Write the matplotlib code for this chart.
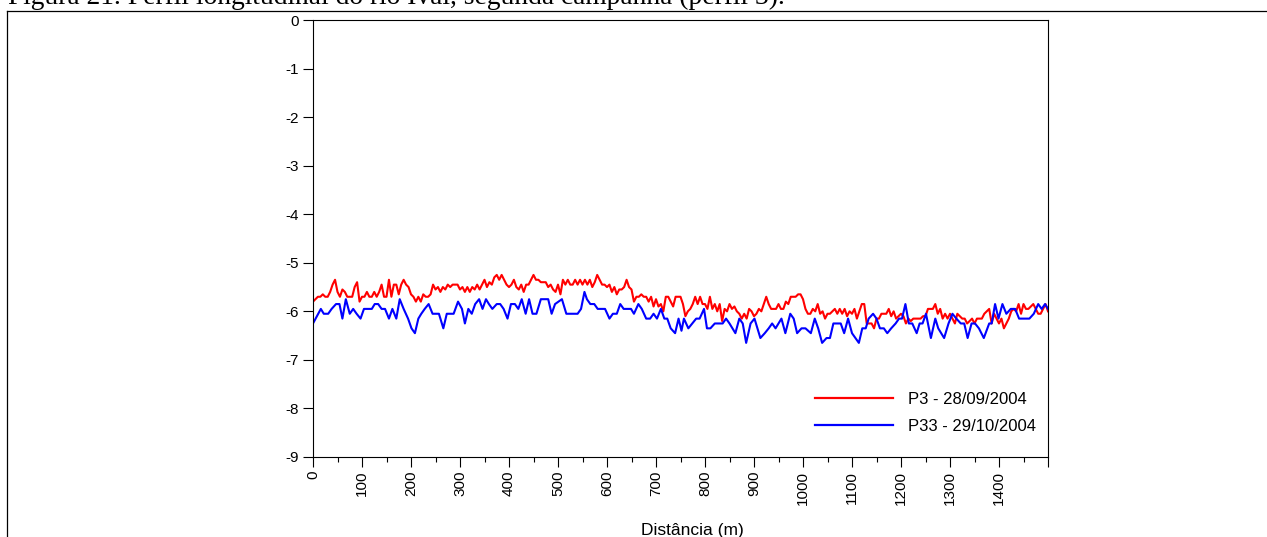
import numpy as np
import matplotlib
matplotlib.use("Agg")
import matplotlib.pyplot as plt
from matplotlib.lines import Line2D
from matplotlib.ticker import MultipleLocator

# Survey P3 (28/09/2004): depth every 5 m along the channel
dist_p3 = np.arange(0, 1501, 5)
depth_p3 = [
    -5.8, -5.75, -5.7, -5.7, -5.65, -5.7, -5.7, -5.6, -5.45, -5.35,
    -5.6, -5.7, -5.55, -5.6, -5.7, -5.7, -5.7, -5.5, -5.4, -5.8,
    -5.7, -5.7, -5.6, -5.7, -5.7, -5.6, -5.7, -5.6, -5.45, -5.7,
    -5.7, -5.35, -5.7, -5.45, -5.45, -5.65, -5.45, -5.35, -5.45, -5.5,
    -5.65, -5.7, -5.8, -5.7, -5.8, -5.65, -5.7, -5.7, -5.65, -5.45,
    -5.55, -5.5, -5.6, -5.5, -5.55, -5.45, -5.5, -5.45, -5.45, -5.45,
    -5.55, -5.5, -5.6, -5.5, -5.6, -5.5, -5.55, -5.45, -5.55, -5.45,
    -5.35, -5.5, -5.4, -5.45, -5.3, -5.25, -5.35, -5.25, -5.35, -5.45,
    -5.5, -5.45, -5.35, -5.5, -5.55, -5.45, -5.6, -5.45, -5.45, -5.35,
    -5.25, -5.35, -5.35, -5.4, -5.4, -5.4, -5.5, -5.45, -5.55, -5.6,
    -5.45, -5.65, -5.35, -5.45, -5.35, -5.45, -5.45, -5.35, -5.45, -5.35,
    -5.45, -5.35, -5.45, -5.35, -5.5, -5.4, -5.25, -5.35, -5.45, -5.45,
    -5.5, -5.45, -5.6, -5.5, -5.65, -5.55, -5.55, -5.5, -5.35, -5.5,
    -5.55, -5.8, -5.7, -5.7, -5.65, -5.7, -5.7, -5.8, -5.7, -5.9,
    -5.75, -5.9, -5.85, -6.0, -5.7, -5.7, -5.8, -5.9, -5.7, -5.7,
    -5.7, -5.85, -6.1, -6.0, -5.95, -5.85, -5.7, -5.85, -5.7, -5.85,
    -5.85, -5.95, -5.7, -5.95, -5.85, -6.0, -5.85, -6.2, -5.95, -6.0,
    -5.85, -5.95, -5.9, -6.0, -6.05, -6.15, -6.05, -6.15, -5.95, -6.0,
    -6.1, -6.05, -5.95, -6.0, -5.85, -5.7, -5.85, -5.95, -5.95, -5.95,
    -5.85, -5.95, -5.95, -5.8, -5.85, -5.7, -5.7, -5.7, -5.65, -5.65,
    -5.75, -5.95, -6.05, -6.05, -5.95, -6.0, -5.85, -6.05, -6.0, -6.15,
    -6.05, -6.05, -6.0, -5.95, -6.05, -5.95, -6.05, -5.95, -6.1, -6.0,
    -6.05, -5.95, -6.15, -6.0, -5.85, -5.85, -6.25, -6.25, -6.25, -6.35,
    -6.15, -6.15, -6.05, -6.05, -6.05, -5.95, -6.1, -6.0, -6.15, -6.1,
    -6.05, -6.1, -6.25, -6.15, -6.2, -6.15, -6.15, -6.15, -6.15, -6.1,
    -6.1, -5.95, -5.95, -5.95, -5.85, -6.05, -5.95, -6.15, -6.05, -6.15,
    -6.05, -6.15, -6.25, -6.05, -6.1, -6.15, -6.15, -6.25, -6.2, -6.15,
    -6.25, -6.15, -6.15, -6.15, -6.05, -6.0, -5.95, -6.25, -6.05, -6.15,
    -6.25, -6.15, -6.35, -6.25, -6.15, -6.0, -5.95, -6.0, -5.85, -6.05,
    -5.85, -5.95, -5.95, -5.9, -5.85, -5.95, -6.05, -6.05, -5.95, -5.85,
    -6.0,
]

# Survey P33 (29/10/2004): irregularly spaced soundings
dist_p33 = [
    0, 8, 16, 22, 31, 38, 47, 54, 60, 67, 75, 82, 89, 97, 104, 113, 120,
    126, 133, 140, 147, 155, 162, 170, 177, 185, 194, 201, 208, 215, 221,
    228, 236, 244, 249, 257, 266, 273, 280, 287, 296, 304, 310, 317, 324,
    331, 339, 346, 353, 359, 366, 375, 382, 389, 397, 404, 412, 419, 426,
    434, 441, 448, 456, 465, 473, 480, 487, 494, 508, 517, 525, 533, 540,
    547, 554, 559, 566, 574, 581, 590, 596, 605, 612, 620, 627, 634, 642,
    649, 655, 664, 671, 680, 688, 695, 702, 710, 717, 723, 730, 739, 746,
    752, 757, 766, 774, 782, 789, 798, 804, 811, 820, 828, 836, 843, 850,
    862, 870, 877, 884, 893, 901, 913, 922, 930, 937, 944, 956, 964, 974,
    981, 988, 997, 1005, 1016, 1024, 1031, 1039, 1048, 1055, 1062, 1070,
    1077, 1084, 1092, 1100, 1107, 1114, 1121, 1128, 1134, 1143, 1150, 1157,
    1165, 1172, 1180, 1189, 1196, 1202, 1209, 1216, 1223, 1232, 1238, 1244,
    1251, 1261, 1270, 1276, 1288, 1297, 1305, 1313, 1322, 1329, 1336, 1344,
    1351, 1359, 1369, 1380, 1385, 1392, 1399, 1407, 1415, 1424, 1433, 1441,
    1454, 1462, 1471, 1480, 1487, 1494, 1500,
]
depth_p33 = [
    -6.25, -6.1, -5.95, -6.05, -6.05, -5.95, -5.85, -5.85, -6.15, -5.75,
    -6.05, -5.95, -6.05, -6.15, -5.95, -5.95, -5.95, -5.85, -5.85, -5.95,
    -5.95, -6.15, -5.95, -6.15, -5.75, -5.95, -6.15, -6.35, -6.45, -6.15,
    -6.05, -5.95, -5.85, -6.05, -6.05, -6.05, -6.35, -6.05, -6.05, -6.05,
    -5.8, -5.95, -6.25, -5.95, -6.05, -5.85, -5.75, -5.95, -5.75, -5.85,
    -5.95, -5.85, -5.85, -5.95, -6.15, -5.85, -5.85, -5.95, -5.75, -6.05,
    -5.75, -6.05, -6.05, -5.75, -5.75, -5.75, -6.05, -5.85, -5.75, -6.05,
    -6.05, -6.05, -6.05, -5.95, -5.6, -5.75, -5.85, -5.85, -5.95, -5.95,
    -5.95, -6.15, -6.05, -6.05, -5.85, -5.95, -5.95, -5.95, -6.05, -5.85,
    -5.95, -6.15, -6.15, -6.05, -6.15, -5.95, -6.15, -6.15, -6.35, -6.45,
    -6.15, -6.4, -6.15, -6.35, -6.25, -6.15, -6.15, -5.95, -6.35, -6.35,
    -6.25, -6.25, -6.25, -6.15, -6.25, -6.45, -6.15, -6.25, -6.65, -6.25,
    -6.15, -6.55, -6.45, -6.35, -6.25, -6.35, -6.15, -6.45, -6.05, -6.15,
    -6.45, -6.35, -6.35, -6.45, -6.15, -6.35, -6.65, -6.55, -6.55, -6.25,
    -6.25, -6.25, -6.45, -6.15, -6.45, -6.55, -6.65, -6.35, -6.35, -6.15,
    -6.05, -6.15, -6.35, -6.35, -6.45, -6.35, -6.25, -6.15, -6.15, -5.85,
    -6.25, -6.25, -6.45, -6.25, -6.25, -6.05, -6.55, -6.15, -6.35, -6.55,
    -6.25, -6.05, -6.15, -6.25, -6.25, -6.55, -6.25, -6.25, -6.35, -6.55,
    -6.25, -6.25, -5.85, -6.15, -5.85, -6.05, -5.95, -5.95, -6.15, -6.15,
    -6.15, -6.05, -5.85, -5.95, -5.85, -5.95,
]

labels = ["P3 - 28/09/2004", "P33 - 29/10/2004"]
x_ticks = list(range(0, 1501, 100))
x_ticklabels = [str(t) for t in range(0, 1401, 100)] + [""]
y_ticks = list(range(0, -10, -1))
y_ticklabels = [str(t) for t in y_ticks]

caption = "Figura 21. Perfil longitudinal do rio Ivaí, segunda campanha (perfil 3)."

W, H = 1267, 537
fig = plt.figure(figsize=(W / 100, H / 100), dpi=100)
fig.patch.set_facecolor("white")

# page frame around the figure
fig.add_artist(Line2D([6.5 / W, 1.0], [1 - 10.5 / H] * 2, transform=fig.transFigure,
                      color="black", lw=0.9))
fig.add_artist(Line2D([6.5 / W] * 2, [0.0, 1 - 10.5 / H], transform=fig.transFigure,
                      color="black", lw=0.9))
fig.text(8 / W, 1 - 3.5 / H, caption, family="Liberation Serif", fontsize=19.8,
         va="baseline", ha="left")

sans = "Liberation Sans"
left, right, top, bottom = 313, 1048, 20, 457
ax = fig.add_axes([left / W, 1 - bottom / H, (right - left) / W, (bottom - top) / H])

ax.plot(dist_p3, depth_p3, color="#ff0000", lw=1.5, label=labels[0])
ax.plot(dist_p33, depth_p33, color="#0000ff", lw=1.5, label=labels[1])

ax.set_xlim(0, 1500)
ax.set_ylim(-9, 0)
ax.set_xticks(x_ticks)
ax.set_xticklabels(x_ticklabels, rotation=90, family=sans, fontsize=11)
ax.xaxis.set_minor_locator(MultipleLocator(50))
ax.set_yticks(y_ticks)
ax.set_yticklabels(y_ticklabels, family=sans, fontsize=11)

for s in ax.spines.values():
    s.set_linewidth(0.8)
ax.tick_params(axis="x", which="major", direction="out", length=7, width=0.8, pad=3)
ax.tick_params(axis="x", which="minor", direction="out", length=3.5, width=0.8)
ax.tick_params(axis="y", which="major", direction="out", length=7, width=0.8, pad=3)

ax.set_xlabel("Distância (m)", family=sans, fontsize=12.5)
ax.xaxis.set_label_coords(0.516, -0.151)

leg = ax.legend(loc="center left", bbox_to_anchor=(0.683, 0.101), frameon=False,
                prop={"family": sans, "size": 12}, handlelength=4.7,
                handletextpad=0.85, labelspacing=0.72, borderpad=0, borderaxespad=0)
for ln in leg.get_lines():
    ln.set_linewidth(1.6)

fig.savefig("out.png", dpi=100, facecolor="white")
